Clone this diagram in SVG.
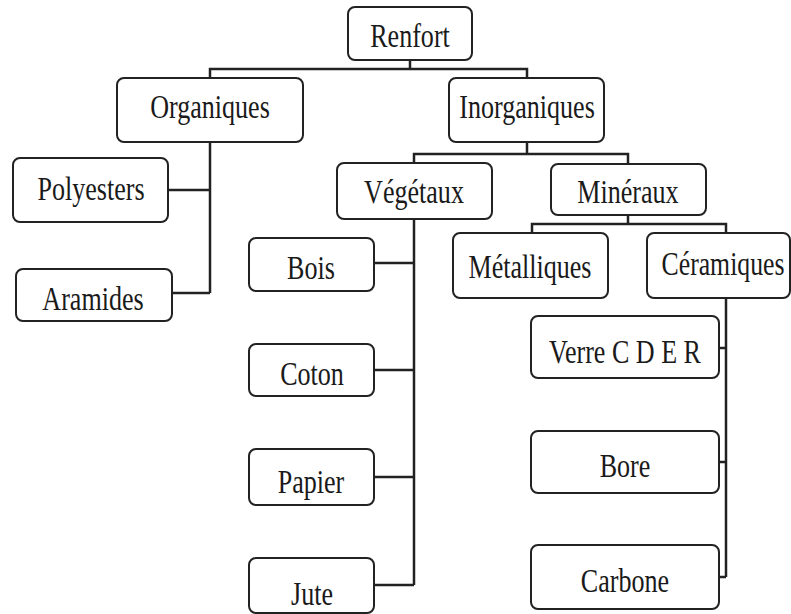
<svg xmlns="http://www.w3.org/2000/svg" width="791" height="614" viewBox="0 0 791 614">
<style>
.box{fill:#fff;stroke:#222;stroke-width:2}
.lbl{font-family:"Liberation Serif","DejaVu Serif",serif;font-size:33px;fill:#1a1a1a;text-anchor:middle}
.con{fill:none;stroke:#222;stroke-width:2.5}
</style>
<rect width="791" height="614" fill="#fff"/>
<g id="connectors">
<path class="con" d="M410 60V69M210 78V69H527V78"/>
<path class="con" d="M210 142V293M168 190H210M172 293H210"/>
<path class="con" d="M527 142V154M414 163V154H628V164"/>
<path class="con" d="M414 219V585M374 263H414M374 370H414M374 477H414M374 585H414"/>
<path class="con" d="M628 215V224M532 233V224H726V233"/>
<path class="con" d="M726 298V577M719 348H726M719 462H726M719 577H726"/>
</g>
<g id="renfort"><rect class="box" x="348" y="7" width="124" height="53" rx="7"/><text class="lbl" transform="translate(410 47) scale(0.79 1)">Renfort</text></g>
<g id="organiques"><rect class="box" x="117" y="78" width="186" height="64" rx="7"/><text class="lbl" transform="translate(210 118) scale(0.79 1)">Organiques</text></g>
<g id="inorganiques"><rect class="box" x="449" y="78" width="155" height="64" rx="7"/><text class="lbl" transform="translate(527 118) scale(0.79 1)">Inorganiques</text></g>
<g id="polyesters"><rect class="box" x="13" y="158" width="155" height="64" rx="7"/><text class="lbl" transform="translate(91 200) scale(0.79 1)">Polyesters</text></g>
<g id="aramides"><rect class="box" x="16" y="269" width="156" height="52" rx="7"/><text class="lbl" transform="translate(93 310) scale(0.79 1)">Aramides</text></g>
<g id="vegetaux"><rect class="box" x="337" y="163" width="155" height="56" rx="7"/><text class="lbl" transform="translate(414 203) scale(0.79 1)">Végétaux</text></g>
<g id="mineraux"><rect class="box" x="551" y="164" width="155" height="51" rx="7"/><text class="lbl" transform="translate(628 203) scale(0.79 1)">Minéraux</text></g>
<g id="metalliques"><rect class="box" x="453" y="233" width="155" height="65" rx="7"/><text class="lbl" transform="translate(530 278) scale(0.79 1)">Métalliques</text></g>
<g id="ceramiques"><rect class="box" x="647" y="233" width="143" height="65" rx="7"/><text class="lbl" transform="translate(723 275) scale(0.78 1)">Céramiques</text></g>
<g id="bois"><rect class="box" x="249" y="238" width="125" height="53" rx="7"/><text class="lbl" transform="translate(311 279) scale(0.79 1)">Bois</text></g>
<g id="coton"><rect class="box" x="249" y="344" width="125" height="52" rx="7"/><text class="lbl" transform="translate(312 385) scale(0.79 1)">Coton</text></g>
<g id="papier"><rect class="box" x="249" y="449" width="125" height="56" rx="7"/><text class="lbl" transform="translate(311 493) scale(0.79 1)">Papier</text></g>
<g id="jute"><rect class="box" x="249" y="558" width="125" height="55" rx="7"/><text class="lbl" transform="translate(312 605) scale(0.79 1)">Jute</text></g>
<g id="verre"><rect class="box" x="531" y="316" width="188" height="62" rx="7"/><text class="lbl" transform="translate(625 363) scale(0.79 1)">Verre C D E R</text></g>
<g id="bore"><rect class="box" x="531" y="431" width="188" height="62" rx="7"/><text class="lbl" transform="translate(625 477) scale(0.79 1)">Bore</text></g>
<g id="carbone"><rect class="box" x="531" y="545" width="188" height="64" rx="7"/><text class="lbl" transform="translate(625 592) scale(0.79 1)">Carbone</text></g>
</svg>
